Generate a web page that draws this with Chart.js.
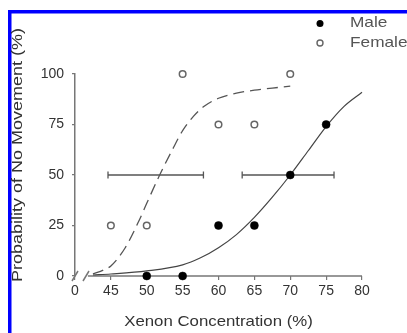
<!DOCTYPE html>
<html>
<head>
<meta charset="utf-8">
<script src="https://cdn.jsdelivr.net/npm/chart.js@4"></script>
<style>
  html, body { margin: 0; padding: 0; background: #fff; }
  #wrap { position: relative; width: 407px; height: 333px; }
</style>
</head>
<body>
<div id="wrap"><canvas id="chart" width="407" height="333"></canvas></div>
<script>
// x axis: 40 stands for the broken "0" origin
const xTickValues = [40, 45, 50, 55, 60, 65, 70, 75, 80];
const xTickLabels = ['0', '45', '50', '55', '60', '65', '70', '75', '80'];
const yTickValues = [0, 25, 50, 75, 100];

const maleX = [50, 55, 60, 65, 70, 75];
const maleY = [0, 0, 25, 25, 50, 75];
const femaleX = [45, 50, 55, 60, 65, 70];
const femaleY = [25, 25, 100, 75, 75, 100];

// fitted curves
const maleFitX = [42.5, 45, 50, 55, 57.5, 60, 62.5, 65, 67.5, 70, 72.5, 75, 77.5, 80];
const maleFitY = [0.5, 1, 2.5, 5.5, 9, 14, 20.5, 29, 39, 50, 62, 74, 84, 91];
const femaleFitX = [42.5, 44, 45, 47, 49, 50, 51.8, 53.5, 55, 56.5, 58, 60, 62.5, 65, 67.5, 70];
const femaleFitY = [1, 3, 5, 14, 28, 36, 50, 62, 72, 79, 84, 88, 90.5, 92, 93, 94];

// horizontal error bars at the 50% point
const femaleErrX = [44.6, 57.9];
const maleErrX = [63.3, 76.1];
const errY = 50;

const xyPts = (xs, ys) => xs.map((x, i) => ({ x, y: ys[i] }));
const errPts = (xs) => xs.map(x => ({ x, y: errY }));

const FONT = '"Liberation Sans", Arial, Helvetica, sans-serif';
const TEXT = '#333';
const AXIS = '#777';

function stretchedText(ctx, text, x, y, size, sx, rot) {
    ctx.save();
    ctx.translate(x, y);
    if (rot) ctx.rotate(rot);
    ctx.scale(sx, 1);
    ctx.font = size + 'px ' + FONT;
    ctx.fillStyle = TEXT;
    ctx.textAlign = 'center';
    ctx.textBaseline = 'middle';
    ctx.fillText(text, 0, 0);
    ctx.restore();
}

const decor = {
    id: 'decor',
    beforeDraw(chart) {
        const ctx = chart.ctx;
        ctx.save();
        ctx.fillStyle = '#fff';
        ctx.fillRect(0, 0, chart.width, chart.height);
        ctx.fillStyle = '#0000ff';
        ctx.fillRect(8, 10, chart.width - 8, 3.5);
        ctx.fillRect(8, 10, 3.5, chart.height - 10);
        ctx.restore();
    },
    beforeDatasetsDraw(chart) {
        const ctx = chart.ctx;
        const xs = chart.scales.x, ys = chart.scales.y;
        const y0 = ys.getPixelForValue(0);
        const xL = xs.getPixelForValue(40);
        const xStart = xs.getPixelForValue(41.8);
        ctx.save();
        ctx.strokeStyle = AXIS;
        ctx.lineWidth = 1.5;
        ctx.beginPath();
        ctx.moveTo(xStart, y0);
        ctx.lineTo(xs.right, y0);
        // axis break marks
        ctx.moveTo(xL - 3, y0 + 5);
        ctx.lineTo(xL + 3, y0 - 5);
        ctx.moveTo(xL + 8, y0 + 5);
        ctx.lineTo(xL + 14, y0 - 5);
        ctx.stroke();
        ctx.restore();
    },
    afterDraw(chart) {
        const ctx = chart.ctx;
        const xs = chart.scales.x;
        // axis titles
        stretchedText(ctx, 'Xenon Concentration (%)', (xs.left + xs.right) / 2, 322, 15, 1.12, 0);
        stretchedText(ctx, 'Probability of No Movement (%)', 18, 155, 15, 1.2, -Math.PI / 2);

        // legend
        ctx.save();
        ctx.fillStyle = '#000';
        ctx.beginPath();
        ctx.arc(320, 23.5, 3.5, 0, Math.PI * 2);
        ctx.fill();
        ctx.strokeStyle = '#666';
        ctx.lineWidth = 1.4;
        ctx.fillStyle = '#fff';
        ctx.beginPath();
        ctx.arc(320, 43, 3, 0, Math.PI * 2);
        ctx.fill();
        ctx.stroke();
        ctx.font = '15px ' + FONT;
        ctx.fillStyle = '#555';
        ctx.textBaseline = 'middle';
        ctx.save();
        ctx.translate(350, 23);
        ctx.scale(1.15, 1);
        ctx.fillText('Male', 0, 0);
        ctx.restore();
        ctx.save();
        ctx.translate(350, 43);
        ctx.scale(1.15, 1);
        ctx.fillText('Female', 0, 0);
        ctx.restore();
        ctx.restore();
    }
};

const ctx = document.getElementById('chart').getContext('2d');

new Chart(ctx, {
    type: 'scatter',
    data: {
        datasets: [
            {
                label: 'Male',
                data: xyPts(maleX, maleY),
                backgroundColor: '#000',
                borderColor: '#000',
                pointRadius: 4,
                pointBorderWidth: 0.5,
                clip: false
            },
            {
                label: 'Female',
                data: xyPts(femaleX, femaleY),
                backgroundColor: '#fff',
                borderColor: '#666',
                pointRadius: 3.3,
                pointBorderWidth: 1.5,
                clip: false
            },
            {
                type: 'line',
                label: 'Male error',
                data: errPts(maleErrX),
                borderColor: '#555',
                borderWidth: 1.3,
                pointStyle: 'line',
                rotation: 90,
                pointRadius: 3.5,
                pointBorderWidth: 1.3
            },
            {
                type: 'line',
                label: 'Female error',
                data: errPts(femaleErrX),
                borderColor: '#555',
                borderWidth: 1.3,
                pointStyle: 'line',
                rotation: 90,
                pointRadius: 3.5,
                pointBorderWidth: 1.3
            },
            {
                type: 'line',
                label: 'Male fit',
                data: xyPts(maleFitX, maleFitY),
                borderColor: '#444',
                borderWidth: 1.2,
                pointRadius: 0,
                cubicInterpolationMode: 'monotone',
                clip: false
            },
            {
                type: 'line',
                label: 'Female fit',
                data: xyPts(femaleFitX, femaleFitY),
                borderColor: '#555',
                borderWidth: 1.3,
                borderDash: [11, 6],
                pointRadius: 0,
                cubicInterpolationMode: 'monotone'
            }
        ]
    },
    options: {
        responsive: false,
        animation: false,
        layout: { padding: { left: 10, top: 74, right: 45, bottom: 0 } },
        plugins: {
            legend: { display: false },
            tooltip: { enabled: false }
        },
        scales: {
            x: {
                type: 'linear',
                min: 40,
                max: 80,
                afterBuildTicks: (axis) => { axis.ticks = xTickValues.map(v => ({ value: v })); },
                afterFit: (axis) => { axis.height = 57; },
                ticks: {
                    callback: (v) => xTickLabels[xTickValues.indexOf(v)],
                    font: { family: FONT, size: 14 },
                    color: TEXT,
                    padding: 3,
                    maxRotation: 0
                },
                grid: { drawOnChartArea: false, color: AXIS, lineWidth: 1.2, tickLength: 4 },
                border: { display: false }
            },
            y: {
                min: 0,
                max: 100,
                afterBuildTicks: (axis) => { axis.ticks = yTickValues.map(v => ({ value: v })); },
                afterFit: (axis) => { axis.width = 65; },
                ticks: {
                    font: { family: FONT, size: 14 },
                    color: TEXT,
                    padding: 8
                },
                grid: { drawOnChartArea: false, color: AXIS, lineWidth: 1.2, tickLength: 3 },
                border: { display: true, color: AXIS, width: 1.5 }
            }
        }
    },
    plugins: [decor]
});
</script>
</body>
</html>
